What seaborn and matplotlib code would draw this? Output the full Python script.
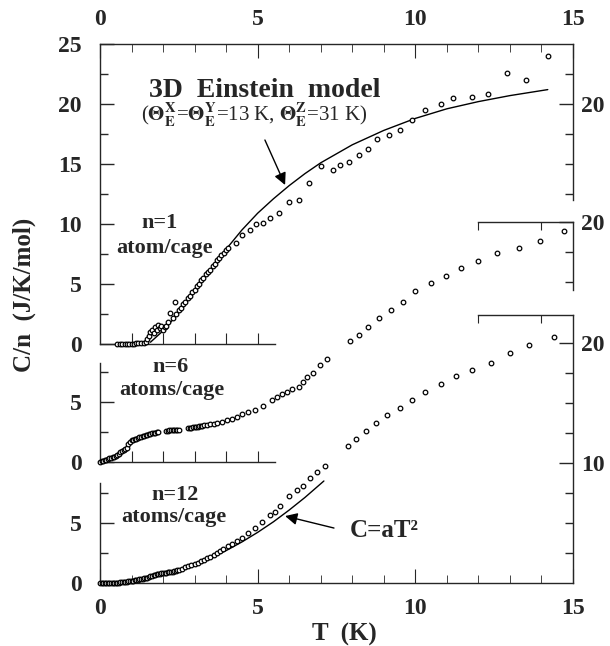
import matplotlib
matplotlib.use("Agg")
import matplotlib.pyplot as plt
import seaborn as sns

# ---------------- data ----------------
# n = 1 atom/cage (top panel)
n1_T = [0.55, 0.62, 0.7, 0.78, 0.85, 0.92, 1.0, 1.08, 1.15, 1.22, 1.3, 1.38, 1.45, 1.5,
        1.55, 1.6, 1.65, 1.7, 1.75, 1.8, 1.85, 1.9, 1.95, 2.0, 2.05, 2.1, 2.15, 2.22,
        2.3, 2.38, 2.42, 2.5, 2.57, 2.64, 2.71, 2.78, 2.85, 2.92, 3.0, 3.07, 3.14, 3.21,
        3.28, 3.35, 3.42, 3.5, 3.57, 3.64, 3.71, 3.78, 3.85, 3.92, 4.0, 4.07, 4.3, 4.5,
        4.76, 4.94, 5.18, 5.4, 5.68, 6.0, 6.3, 6.64, 7.0, 7.4, 7.6, 7.9, 8.2, 8.5, 8.8,
        9.16, 9.5, 9.9, 10.3, 10.8, 11.2, 11.8, 12.3, 12.9, 13.5, 14.2]
n1_C = [0.0, 0.0, 0.0, 0.0, 0.02, 0.02, 0.03, 0.04, 0.05, 0.06, 0.08, 0.1, 0.2, 0.4,
        0.7, 1.0, 1.2, 0.9, 1.4, 1.2, 1.6, 1.3, 1.5, 1.2, 1.4, 1.5, 1.8, 2.6,
        2.2, 3.5, 2.5, 2.8, 3.0, 3.3, 3.5, 3.8, 4.0, 4.3, 4.5, 4.8, 5.0, 5.3,
        5.5, 5.8, 6.0, 6.2, 6.5, 6.7, 7.0, 7.2, 7.4, 7.6, 7.8, 8.0, 8.4, 9.1,
        9.5, 10.0, 10.1, 10.5, 10.9, 11.8, 12.0, 13.4, 14.8, 14.5, 14.9, 15.2, 15.75, 16.25, 17.05,
        17.4, 17.8, 18.65, 19.5, 20.0, 20.5, 20.6, 20.8, 22.6, 22.0, 24.0]

# 3D Einstein model curve
ein_T = [1.6, 2.0, 2.5, 3.0, 3.5, 4.0, 4.5, 5.0, 5.5, 6.0, 6.5, 7.0, 8.0, 9.0, 10.0,
         11.0, 12.0, 13.0, 14.2]
ein_C = [0.15, 1.1, 2.6, 4.4, 6.2, 7.9, 9.5, 10.9, 12.1, 13.2, 14.2, 15.1, 16.6, 17.8,
         18.8, 19.6, 20.2, 20.7, 21.2]

# n = 6 atoms/cage (middle panel)
n6_T = [0.0, 0.05, 0.1, 0.15, 0.2, 0.25, 0.3, 0.35, 0.4, 0.45, 0.5, 0.55, 0.6, 0.65,
        0.7, 0.75, 0.8, 0.85, 0.9, 0.95, 1.0, 1.05, 1.1, 1.15, 1.2, 1.25, 1.3, 1.35,
        1.4, 1.45, 1.5, 1.55, 1.6, 1.65, 1.7, 1.75, 1.8, 1.85, 2.1, 2.15, 2.2, 2.25,
        2.3, 2.35, 2.4, 2.45, 2.5, 2.8, 2.85, 2.9, 2.95, 3.0, 3.05, 3.1, 3.15, 3.2,
        3.25, 3.3, 3.4, 3.5, 3.6, 3.7, 3.87, 4.03, 4.19, 4.35, 4.5, 4.7, 4.92, 5.17,
        5.45, 5.6, 5.78, 5.93, 6.1, 6.3, 6.45, 6.55, 6.77, 6.98, 7.2, 7.94, 8.2, 8.5,
        8.85, 9.24, 9.6, 10.0, 10.5, 10.96, 11.46, 12.0, 12.6, 13.3, 13.94, 14.7]
n6_C = [0.0, 0.05, 0.1, 0.15, 0.2, 0.25, 0.3, 0.35, 0.4, 0.45, 0.5, 0.6, 0.7, 0.8,
        0.9, 1.0, 1.1, 1.2, 1.5, 1.7, 1.8, 1.85, 1.9, 1.95, 2.0, 2.05, 2.1, 2.15,
        2.2, 2.22, 2.25, 2.3, 2.35, 2.38, 2.4, 2.45, 2.5, 2.5, 2.6, 2.62, 2.65, 2.65,
        2.65, 2.68, 2.7, 2.7, 2.7, 2.8, 2.82, 2.85, 2.88, 2.9, 2.92, 2.95, 2.97, 3.0,
        3.03, 3.05, 3.1, 3.15, 3.2, 3.25, 3.33, 3.5, 3.6, 3.78, 3.97, 4.14, 4.3, 4.67,
        5.17, 5.4, 5.64, 5.8, 6.1, 6.25, 6.7, 7.1, 7.4, 8.1, 8.6, 10.1, 10.6, 11.25,
        12.0, 12.67, 13.3, 14.25, 14.9, 15.5, 16.2, 16.75, 17.4, 17.85, 18.4, 19.25]

# n = 12 atoms/cage (bottom panel)
n12_T = [0.0, 0.05, 0.1, 0.15, 0.2, 0.25, 0.3, 0.35, 0.4, 0.45, 0.5, 0.55, 0.6, 0.65,
         0.7, 0.75, 0.8, 0.85, 0.9, 0.95, 1.0, 1.05, 1.1, 1.15, 1.2, 1.25, 1.3, 1.35,
         1.4, 1.45, 1.5, 1.55, 1.6, 1.65, 1.7, 1.75, 1.8, 1.85, 1.9, 1.95, 2.0, 2.05,
         2.1, 2.15, 2.2, 2.25, 2.3, 2.35, 2.4, 2.45, 2.5, 2.6, 2.7, 2.8, 2.9, 3.0,
         3.1, 3.2, 3.3, 3.4, 3.5, 3.6, 3.7, 3.8, 3.9, 4.05, 4.2, 4.35, 4.5, 4.7, 4.92,
         5.13, 5.4, 5.56, 5.7, 6.0, 6.24, 6.43, 6.67, 6.88, 7.14, 7.87, 8.13, 8.44,
         8.76, 9.1, 9.5, 9.9, 10.3, 10.8, 11.3, 11.8, 12.4, 13.0, 13.6, 14.4]
n12_C = [0.0, 0.0, 0.0, 0.0, 0.0, 0.0, 0.0, 0.0, 0.01, 0.01, 0.02, 0.03, 0.04, 0.05,
         0.06, 0.08, 0.1, 0.12, 0.14, 0.16, 0.18, 0.2, 0.23, 0.25, 0.28, 0.3, 0.33, 0.35,
         0.38, 0.41, 0.45, 0.5, 0.55, 0.6, 0.65, 0.68, 0.72, 0.75, 0.78, 0.8, 0.82, 0.84,
         0.86, 0.88, 0.9, 0.92, 0.95, 0.98, 1.02, 1.06, 1.1, 1.2, 1.3, 1.4, 1.5, 1.6,
         1.7, 1.82, 1.95, 2.08, 2.2, 2.33, 2.48, 2.65, 2.85, 3.05, 3.25, 3.5, 3.75, 4.2, 4.6,
         5.1, 5.67, 5.9, 6.4, 7.25, 7.75, 8.1, 8.75, 9.25, 9.75, 11.4, 12.0, 12.7,
         13.3, 14.0, 14.6, 15.25, 15.9, 16.6, 17.25, 17.75, 18.3, 19.2, 19.8, 20.5]

# C = aT^2 curve
sq_T = [0.0, 0.5, 1.0, 1.5, 2.0, 2.5, 3.0, 3.5, 4.0, 4.5, 5.0, 5.5, 6.0, 6.5, 7.1]
sq_C = [0.0, 0.04, 0.17, 0.38, 0.68, 1.06, 1.52, 2.07, 2.7, 3.42, 4.22, 5.1, 6.08, 7.13, 8.5]

x_major = [0, 5, 10, 15]
x_minor = list(range(0, 16))

# ---------------- style ----------------
sns.set_style("ticks")
plt.rcParams["font.family"] = ["Liberation Serif", "DejaVu Serif"]
plt.rcParams["font.weight"] = "bold"
plt.rcParams["mathtext.fontset"] = "stix"
plt.rcParams["axes.linewidth"] = 1.0

W_PX, H_PX = 610, 646
fig = plt.figure(figsize=(W_PX / 100, H_PX / 100), dpi=100)

LEFT, RIGHT = 100, 573


def make_axes(zero_px, top_px):
    ax = fig.add_axes([LEFT / W_PX, 1 - zero_px / H_PX,
                       (RIGHT - LEFT) / W_PX, (zero_px - top_px) / H_PX])
    ax.patch.set_alpha(0)
    return ax


LBL = 17


def style_y(ax, side, major, minor, labels, pad):
    ax.set_yticks(major)
    ax.set_yticks(minor, minor=True)
    ax.set_yticklabels(labels)
    kw = dict(axis="y", direction="in", width=1.0, labelsize=LBL, pad=pad)
    if side == "left":
        ax.tick_params(which="both", left=True, right=False, labelleft=True, labelright=False, **kw)
    else:
        ax.tick_params(which="both", left=False, right=True, labelleft=False, labelright=True, **kw)
    ax.tick_params(axis="y", which="major", length=10)
    ax.tick_params(axis="y", which="minor", length=6)


def only_spine(ax, name):
    for k, s in ax.spines.items():
        s.set_visible(k == name)


mk = dict(marker="o", s=11, color="white", edgecolor="black", linewidth=0.9, clip_on=False, zorder=3)

# ---------- top panel (n = 1) ----------
ax_top = make_axes(344, 44)
ax_top.set_xlim(0, 15)
ax_top.set_ylim(0, 25)
ax_top.spines["top"].set_visible(False)
ax_top.spines["right"].set_visible(False)
ax_top.spines["bottom"].set_bounds(0, 5.56)
ax_top.set_xticks([1, 2, 3, 4, 5])
ax_top.tick_params(axis="x", direction="in", bottom=True, top=False, labelbottom=False, length=8)
style_y(ax_top, "left", [0, 5, 10, 15, 20, 25], [2.5, 7.5, 12.5, 17.5, 22.5],
        ["0", "5", "10", "15", "20", "25"], 13)
sns.lineplot(x=ein_T, y=ein_C, ax=ax_top, color="black", linewidth=1.0)
sns.scatterplot(x=n1_T, y=n1_C, ax=ax_top, **mk)

ax_top_t = ax_top.twiny()
only_spine(ax_top_t, "top")
ax_top_t.set_xlim(0, 15)
ax_top_t.set_xticks(x_major)
ax_top_t.set_xticks(x_minor, minor=True)
ax_top_t.set_xticklabels(["0", "5", "10", "15"])
ax_top_t.tick_params(axis="x", which="both", direction="in", top=True, bottom=False,
                     labeltop=True, labelbottom=False, labelsize=LBL, pad=10)
ax_top_t.tick_params(axis="x", which="major", length=10)
ax_top_t.tick_params(axis="x", which="minor", length=6)

ax_top_r = ax_top.twinx()
only_spine(ax_top_r, "right")
ax_top_r.set_ylim(0, 25)
ax_top_r.spines["right"].set_bounds(12, 25)
style_y(ax_top_r, "right", [20], [12.5, 15, 17.5, 22.5], ["20"], 6)

ax_top.text(5.23, 21.1, "3D  Einstein  model", ha="center", va="center", size=20, weight="bold")
ax_top.text(4.9, 19.1, r"($\Theta_{\rm E}^{\rm X}$=$\Theta_{\rm E}^{\rm Y}$=13 K, $\Theta_{\rm E}^{\rm Z}$=31 K)",
            ha="center", va="center", size=15, weight="normal")
ax_top.annotate("", xy=(5.87, 13.25), xytext=(5.23, 17.0),
                arrowprops=dict(arrowstyle="-|>", color="black", lw=1.0, mutation_scale=18,
                                shrinkA=0, shrinkB=0))
ax_top.text(1.9, 10.1, "n=1", ha="center", va="center", size=16, weight="bold")
ax_top.text(2.06, 8.0, "atom/cage", ha="center", va="center", size=16, weight="bold")

# ---------- middle panel (n = 6) ----------
ax_mid = make_axes(462, 222)
ax_mid.set_xlim(0, 15)
ax_mid.set_ylim(0, 20)
ax_mid.spines["top"].set_visible(False)
ax_mid.spines["right"].set_visible(False)
ax_mid.spines["bottom"].set_bounds(0, 5.56)
ax_mid.spines["left"].set_bounds(0, 8.25)
ax_mid.set_xticks([1, 2, 3, 4, 5])
ax_mid.tick_params(axis="x", direction="in", bottom=True, top=False, labelbottom=False, length=8)
style_y(ax_mid, "left", [0, 5], [2.5, 7.5], ["0", "5"], 13)
sns.scatterplot(x=n6_T, y=n6_C, ax=ax_mid, **mk)

ax_mid_t = ax_mid.twiny()
only_spine(ax_mid_t, "top")
ax_mid_t.set_xlim(0, 15)
ax_mid_t.spines["top"].set_bounds(12, 15)
ax_mid_t.set_xticks([12, 14])
ax_mid_t.tick_params(axis="x", direction="in", top=True, bottom=False, labeltop=False,
                     labelbottom=False, length=6)

ax_mid_r = ax_mid.twinx()
only_spine(ax_mid_r, "right")
ax_mid_r.set_ylim(0, 20)
ax_mid_r.spines["right"].set_bounds(14.3, 20)
style_y(ax_mid_r, "right", [20], [15, 17.5], ["20"], 6)

ax_mid.text(2.25, 7.9, "n=6", ha="center", va="center", size=16, weight="bold")
ax_mid.text(2.29, 6.0, "atoms/cage", ha="center", va="center", size=16, weight="bold")

# ---------- bottom panel (n = 12) ----------
ax_bot = make_axes(583, 315)
ax_bot.set_xlim(0, 15)
ax_bot.set_ylim(0, (583 - 315) / 12)
ax_bot.spines["top"].set_visible(False)
ax_bot.spines["right"].set_visible(False)
ax_bot.spines["left"].set_bounds(0, 8.33)
ax_bot.set_xticks(x_major)
ax_bot.set_xticks(x_minor, minor=True)
ax_bot.set_xticklabels(["0", "5", "10", "15"])
ax_bot.tick_params(axis="x", which="both", direction="in", bottom=True, top=False,
                   labelbottom=True, labelsize=LBL, pad=11)
ax_bot.tick_params(axis="x", which="major", length=10)
ax_bot.tick_params(axis="x", which="minor", length=6)
style_y(ax_bot, "left", [0, 5], [2.5, 7.5], ["0", "5"], 13)
sns.lineplot(x=sq_T, y=sq_C, ax=ax_bot, color="black", linewidth=1.0)
sns.scatterplot(x=n12_T, y=n12_C, ax=ax_bot, **mk)

ax_bot_t = ax_bot.twiny()
only_spine(ax_bot_t, "top")
ax_bot_t.set_xlim(0, 15)
ax_bot_t.spines["top"].set_bounds(12, 15)
ax_bot_t.set_xticks([12, 14])
ax_bot_t.tick_params(axis="x", direction="in", top=True, bottom=False, labeltop=False,
                     labelbottom=False, length=6)

ax_bot_r = ax_bot.twinx()
only_spine(ax_bot_r, "right")
ax_bot_r.set_ylim(0, (583 - 315) / 12)
style_y(ax_bot_r, "right", [10, 20], [2.5, 5, 7.5, 12.5, 15, 17.5], ["10", "20"], 6)

ax_bot.text(2.37, 7.33, "n=12", ha="center", va="center", size=16, weight="bold")
ax_bot.text(2.35, 5.5, "atoms/cage", ha="center", va="center", size=16, weight="bold")
ax_bot.annotate("", xy=(5.87, 5.58), xytext=(7.42, 4.58),
                arrowprops=dict(arrowstyle="-|>", color="black", lw=1.0, mutation_scale=18,
                                shrinkA=0, shrinkB=0))
ax_bot.text(9.0, 4.4, "C=aT²", ha="center", va="center", size=18, weight="bold")

for a in (ax_top, ax_mid, ax_bot):
    a.set_xlabel("")
    a.set_ylabel("")

fig.text(24 / W_PX, 1 - 295 / H_PX, "C/n  (J/K/mol)", rotation=90, ha="center", va="center",
         size=18, weight="bold")
fig.text(344 / W_PX, 1 - 634 / H_PX, "T  (K)", ha="center", va="center", size=18, weight="bold")

fig.savefig("out.png", dpi=100, facecolor="white")
